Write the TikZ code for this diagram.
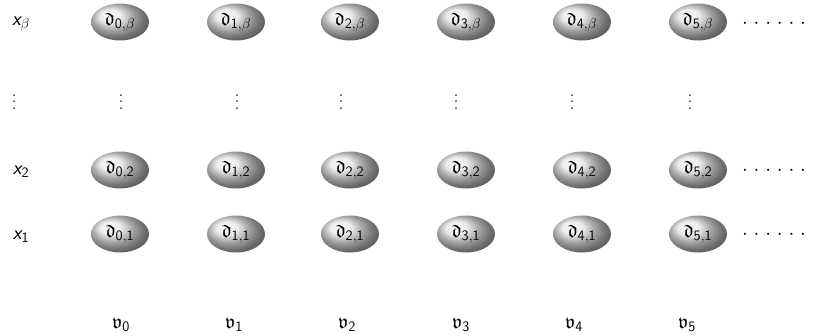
\documentclass[tikz,border=0pt]{standalone}
\usepackage{amsfonts}
\usetikzlibrary{shapes.geometric}
\newcommand\sixdotsrow{\hbox to 64pt{$\cdot$\hfil$\cdot$\hfil$\cdot$\hfil$\cdot$\hfil$\cdot$\hfil$\cdot$}}
\newcommand\tallvdots{\vbox{\baselineskip6.5pt\lineskiplimit0pt\hbox{.}\hbox{.}\hbox{.}}}
\begin{document}
\begin{tikzpicture}[x=1pt,y=-1pt,
  ballnode/.style={ellipse, shading=ball, ball color=gray!20, minimum width=58pt, minimum height=37pt, inner sep=0pt, font=\fontsize{20}{24}\selectfont},
  lbl/.style={font=\fontsize{20}{24}\selectfont, inner sep=0pt},
  vdotsnode/.style={font=\fontsize{20}{24}\selectfont, inner sep=0pt},
  dotsnode/.style={font=\fontsize{20}{24}\selectfont, inner sep=0pt}]
\useasboundingbox (0,0) rectangle (818,335);
% row labels
\node[lbl] (xb) at (21,24) {\sffamily\itshape x$_{\beta}$};
\node[vdotsnode] (xv) at (14,102) {\tallvdots};
\node[lbl] (x2) at (21,172) {\sffamily\itshape x$_{\mathsf{2}}$};
\node[lbl] (x1) at (21,237) {\sffamily\itshape x$_{\mathsf{1}}$};
% columns
\foreach \i/\cx/\vx/\bx in {0/120/121/117, 1/236/237/230, 2/350/341/343, 3/466/456/457, 4/582/572/570, 5/698/690/683}{
  \node[ballnode] (d\i b) at (\cx,22) {$\mathfrak{d}_{\mathsf{\i},\beta}$};
  \node[ballnode] (d\i 2) at (\cx,170) {$\mathfrak{d}_{\mathsf{\i,2}}$};
  \node[ballnode] (d\i 1) at (\cx,234) {$\mathfrak{d}_{\mathsf{\i,1}}$};
  \node[vdotsnode] (vd\i) at (\vx,102) {\tallvdots};
  \node[lbl,anchor=base] (v\i) at (\bx+4,328) {$\mathfrak{v}_{\mathsf{\i}}$};
}
\node[dotsnode] (hb) at (774,24) {\sixdotsrow};
\node[dotsnode] (h2) at (774,171) {\sixdotsrow};
\node[dotsnode] (h1) at (774,235) {\sixdotsrow};
\end{tikzpicture}
\end{document}
